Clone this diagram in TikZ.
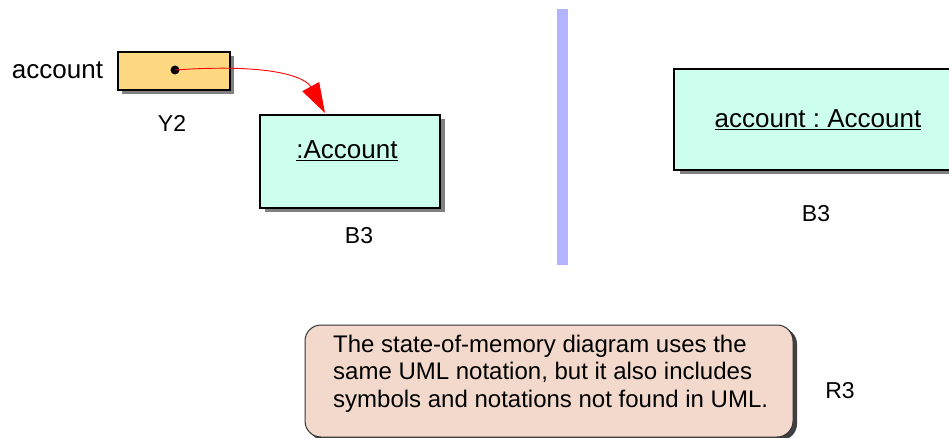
\documentclass[tikz,border=0pt]{standalone}
\usepackage{fontspec}
\setmainfont{Liberation Sans}
\usetikzlibrary{arrows.meta}
\definecolor{varfill}{HTML}{FFD982}
\definecolor{objfill}{HTML}{CCFFEE}
\definecolor{notefill}{HTML}{F2D9CC}
\definecolor{barblue}{HTML}{B3B3FF}
\definecolor{shadowgrey}{HTML}{808080}
\frenchspacing
\tikzset{
  x=1pt, y=-1pt,
  lbl/.style={font=\fontsize{26}{31}\selectfont, inner sep=0pt, anchor=base},
  tag/.style={font=\fontsize{23}{28}\selectfont, inner sep=0pt, anchor=base},
  boxshape/.style={draw=black, line width=1.8pt, inner sep=0pt},
  shadowbox/.style={fill=shadowgrey, draw=none},
  ptr/.style={red, line width=0.9pt, -{Triangle[length=30pt,width=19pt,fill=red]}},
}
\begin{document}
\begin{tikzpicture}
\clip (0,0) rectangle (949,438);
\fill[white] (0,0) rectangle (949,438);

% reference variable
\fill[shadowbox] (122,56) rectangle (234,94);
\node[boxshape, fill=varfill, minimum width=112pt, minimum height=38pt] (var) at (174,71) {};
\fill (175,70) circle (4.5pt) coordinate (dot);
\node[lbl] (varname) at (57.5,79) {account};
\node[tag] (vartag) at (172,132) {Y2};

% anonymous object
\fill[shadowbox] (265,119) rectangle (445,212);
\node[boxshape, fill=objfill, minimum width=180pt, minimum height=93pt] (obj) at (350,161.5) {};
\node[lbl] (objname) at (347,159) {\underline{:Account}};
\node[tag] (objtag) at (359,243) {B3};
\coordinate (tip) at (325,113);
\draw[ptr] (dot) .. controls (275,63) and (306,78) .. (tip);

% divider
\fill[barblue] (557,9) rectangle (568,265);

% named object
\fill[shadowbox] (680,73) rectangle (968,174);
\node[boxshape, fill=objfill, minimum width=288pt, minimum height=101pt] (named) at (818,119.5) {};
\node[lbl] (namedname) at (818,128) {\underline{account : Account}};
\node[tag] (namedtag) at (816,222) {B3};

% note
\fill[black!75, rounded corners=16pt] (308,328) rectangle (797,440);
\node[draw=black!80, line width=1pt, fill=notefill, rounded corners=16pt,
      minimum width=488pt, minimum height=112pt, inner sep=0pt] (note) at (549,381) {};
\node[font=\fontsize{24}{27.5}\selectfont, align=left, anchor=base west, inner sep=0pt]
  (notetext) at (333,407) {The state-of-memory diagram uses the\\same UML notation, but it also includes\\symbols and notations not found in UML.};
\node[tag] (notetag) at (840,398) {R3};
\end{tikzpicture}
\end{document}
